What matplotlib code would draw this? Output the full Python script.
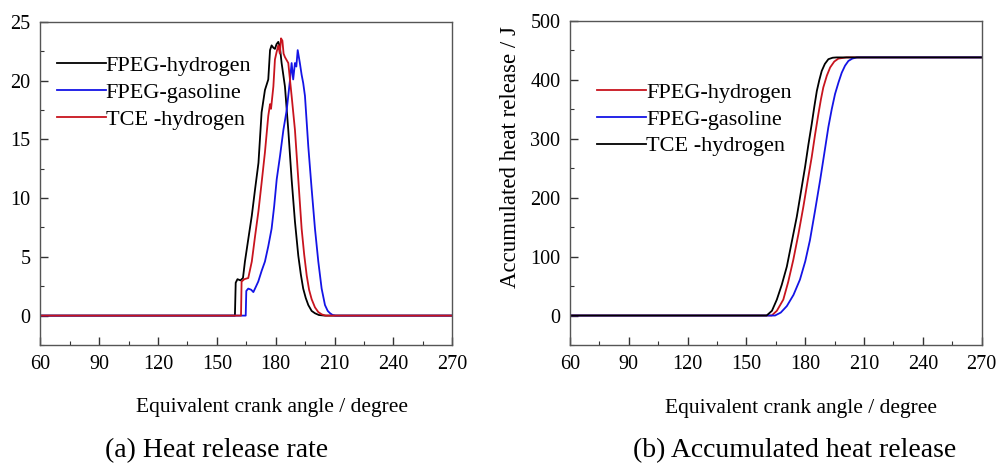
import numpy as np
import matplotlib.pyplot as plt
from matplotlib.ticker import MultipleLocator

plt.rcParams['font.family'] = ['Liberation Serif', 'DejaVu Serif']

# (a) heat release rate
a_deg_fh = [60, 159.2, 159.6, 160.5, 162, 163.3, 164.3, 166, 167.8, 169.5, 171.2, 172.8, 174.5, 176.2, 177.1,
            177.9, 178.8, 179.6, 180.4, 181.3, 182.1, 183, 184.7, 186.4, 188.1, 189.8, 191.5, 192.8, 194,
            195.3, 196.6, 198.3, 200, 202, 205, 270]
a_val_fh = [0, 0, 2.8, 3.1, 3.0, 3.2, 4.6, 6.5, 8.5, 10.8, 13.0, 17.3, 19.2, 20.1, 22.6,
            23.0, 22.8, 22.7, 23.1, 23.3, 22.9, 21.5, 19.5, 15.8, 11.6, 8.0, 5.1, 3.5, 2.3,
            1.5, 0.9, 0.4, 0.2, 0.05, 0, 0]
a_deg_fg = [60, 164.7, 165.0, 166.0, 167.5, 168.6, 170, 171.1, 172.8, 174.5, 176.2, 177.9, 179.2, 180.5,
            182.2, 183.9, 185.6, 187.3, 188.1, 188.9, 189.8, 190.5, 191.2, 192.3, 193.2, 194, 194.9,
            196.6, 198.3, 200, 201.7, 203.4, 205.1, 206.5, 207.7, 209, 210.5, 270]
a_val_fg = [0, 0, 2.1, 2.3, 2.2, 2.0, 2.5, 2.9, 3.8, 4.6, 5.9, 7.4, 9.3, 11.6,
            13.6, 15.8, 17.5, 20.1, 21.5, 20.1, 21.5, 21.2, 22.6, 21.5, 20.5, 19.8, 18.7,
            14.4, 10.8, 7.4, 4.6, 2.3, 0.9, 0.4, 0.2, 0.05, 0, 0]
a_deg_th = [60, 162.3, 162.6, 164, 166, 167.8, 169.5, 171.2, 172.8, 174.5, 176.2, 177.1, 177.6, 178.8,
            179.6, 180.4, 181.3, 182.1, 182.7, 183.4, 184, 184.7, 186.4, 188.1, 189.8, 191.5, 193.2,
            194.5, 195.8, 197, 198.3, 200, 201.7, 203.5, 205.5, 270]
a_val_th = [0, 0, 2.9, 3.1, 3.2, 4.6, 6.8, 8.9, 11.3, 13.9, 17.0, 18.0, 17.6, 19.5,
            21.8, 22.4, 23.0, 22.3, 23.6, 23.4, 22.3, 22.0, 21.5, 18.7, 15.8, 11.6, 7.4,
            5.2, 3.4, 2.2, 1.4, 0.7, 0.3, 0.1, 0, 0]

# (b) accumulated heat release
b_deg_fh = [60, 162.9, 165.5, 168.8, 171.3, 173.9, 176.5, 179, 181.2, 183.3, 185, 186.7, 188, 189.2,
            191, 192.7, 194.8, 196.9, 201, 270]
b_val_fh = [0, 0, 8, 27, 57, 94.5, 138, 184, 228, 269, 307, 342, 367, 387, 407, 421, 431, 436, 438, 438]
b_deg_fg = [60, 164.6, 167.5, 170.6, 174, 177.3, 180, 182.4, 185, 187.6, 189.8, 191.8, 193.5, 195.2,
            197, 198.6, 200.3, 202, 204, 206.3, 270]
b_val_fg = [0, 0, 5, 16, 35, 61, 92, 128, 178, 230, 277, 320, 350, 376, 396, 412, 424, 432, 436, 438, 438]
b_deg_th = [60, 160.3, 163, 165.5, 168, 170.6, 173, 175.7, 177.8, 179.9, 181.6, 183.3, 184.6, 185.9,
            187.2, 188.4, 190, 191.8, 194, 196, 270]
b_val_th = [0, 0, 8, 27, 52, 83, 123, 168, 210, 252, 290, 325, 354, 381, 400, 415, 427, 435, 437.5, 438, 438]

red = '#c8141e'
blue = '#1414e6'
xlabel = 'Equivalent crank angle / degree'

fig = plt.figure(figsize=(10, 4.66), dpi=100)
ax1 = fig.add_axes([0.0403, 0.2597, 0.412, 0.6933])
ax2 = fig.add_axes([0.570, 0.2597, 0.4117, 0.6955])

ax1.plot(a_deg_fh, a_val_fh, color='black', lw=1.3, label='FPEG-hydrogen')
ax1.plot(a_deg_fg, a_val_fg, color=blue, lw=1.3, label='FPEG-gasoline')
ax1.plot(a_deg_th, a_val_th, color=red, lw=1.3, label='TCE -hydrogen')
ax1.set_ylim(-2.5, 25)
ax1.yaxis.set_major_locator(MultipleLocator(5))
ax1.yaxis.set_minor_locator(MultipleLocator(2.5))

ax2.plot(b_deg_fh, b_val_fh, color=red, lw=1.3, label='FPEG-hydrogen')
ax2.plot(b_deg_fg, b_val_fg, color=blue, lw=1.3, label='FPEG-gasoline')
ax2.plot(b_deg_th, b_val_th, color='black', lw=1.3, label='TCE -hydrogen')
ax2.set_ylim(-50, 500)
ax2.yaxis.set_major_locator(MultipleLocator(100))
ax2.yaxis.set_minor_locator(MultipleLocator(50))
ax2.set_ylabel('Accumulated heat release / J', fontsize=16.5)
ax2.yaxis.set_label_coords(-0.1457, 0.58)
ax2.yaxis.label.set_va('center')

for ax in (ax1, ax2):
    ax.set_xlim(60, 270)
    ax.xaxis.set_major_locator(MultipleLocator(30))
    ax.xaxis.set_minor_locator(MultipleLocator(15))
    ax.tick_params(which='both', direction='in', labelsize=14.5, color='#333333', pad=7)
    ax.tick_params(which='major', length=6, width=1)
    ax.tick_params(which='minor', length=3, width=0.8)
    for s in ax.spines.values():
        s.set_color('#555555')
        s.set_linewidth(1.0)
    ax.set_xlabel(xlabel, fontsize=15.5)
    ax.xaxis.set_label_coords(0.562, -0.195)
    ax.xaxis.label.set_va('center')

leg_kw = dict(loc='upper left', frameon=False, fontsize=16, handlelength=2.2, handletextpad=0.0,
              labelspacing=0.28, borderaxespad=0, borderpad=0, bbox_transform=fig.transFigure)
ax1.legend(bbox_to_anchor=(0.0567, 0.8807), **leg_kw)
ax2.legend(bbox_to_anchor=(0.597, 0.8234), **leg_kw)

fig.text(0.217, 0.034, '(a) Heat release rate', ha='center', va='center', fontsize=20)
fig.text(0.795, 0.034, '(b) Accumulated heat release', ha='center', va='center', fontsize=20)

fig.savefig('out.png', dpi=100)
